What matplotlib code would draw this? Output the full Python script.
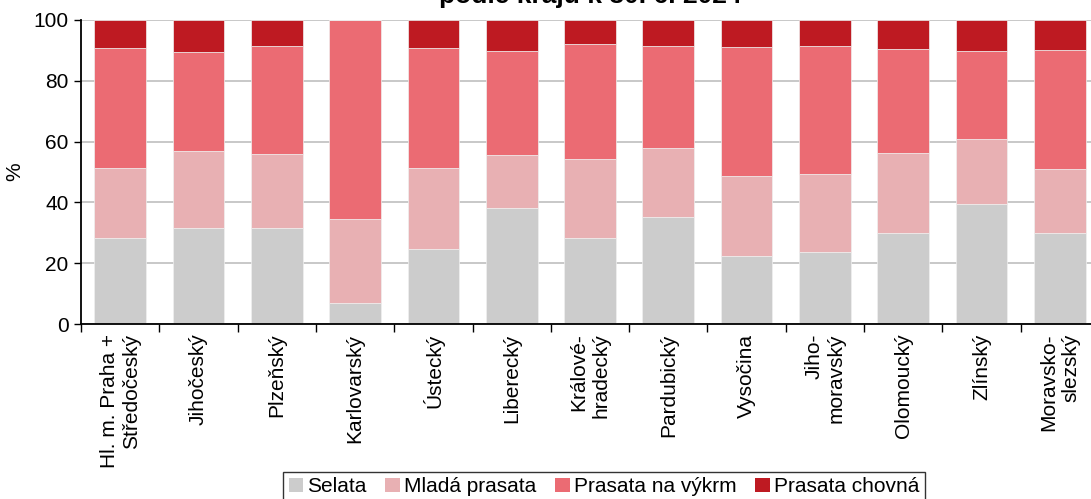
import numpy as np
import matplotlib.pyplot as plt
from matplotlib.patches import Patch

plt.rcParams['font.family'] = ['Liberation Sans', 'DejaVu Sans']

regions = ["Hl. m. Praha +\nStředočeský", "Jihočeský", "Plzeňský", "Karlovarský",
           "Ústecký", "Liberecký", "Královéhradecký", "Pardubický", "Vysočina",
           "Jihomoravský", "Olomoucký", "Zlínský", "Moravskoslezský"]
tick_labels = ["Hl. m. Praha +\nStředočeský", "Jihočeský", "Plzeňský", "Karlovarský",
               "Ústecký", "Liberecký", "Králové-\nhradecký", "Pardubický", "Vysočina",
               "Jiho-\nmoravský", "Olomoucký", "Zlínský", "Moravsko-\nslezský"]

# shares in %
selata = [28.3, 31.6, 31.6, 6.9, 24.8, 38.3, 28.3, 35.3, 22.3, 23.6, 29.9, 39.4, 29.8]
mlada = [23.0, 25.3, 24.3, 27.5, 26.5, 17.2, 26.0, 22.5, 26.4, 25.7, 26.4, 21.5, 21.2]
vykrm = [39.6, 32.6, 35.6, 65.6, 39.6, 34.3, 37.7, 33.6, 42.4, 42.1, 34.0, 28.9, 39.0]
chovna = [9.1, 10.5, 8.5, 0.0, 9.1, 10.2, 8.0, 8.6, 8.9, 8.6, 9.7, 10.2, 10.0]

series = [("Selata", selata, "#cccccc"),
          ("Mladá prasata", mlada, "#e8b0b3"),
          ("Prasata na výkrm", vykrm, "#eb6b73"),
          ("Prasata chovná", chovna, "#be1a22")]


def main():
    fig = plt.figure(figsize=(10.91, 4.99), dpi=100)
    ax = fig.add_axes([81 / 1091, 175 / 499, 1018 / 1091, 304 / 499])

    x = np.arange(len(regions))
    bottom = np.zeros(len(regions))
    for name, vals, col in series:
        ax.bar(x, vals, 0.66, bottom=bottom, color=col, edgecolor="#f0f0f0",
               linewidth=0.5, zorder=2)
        bottom += np.array(vals)

    ax.set_xlim(-0.5, len(regions) - 0.5)
    ax.set_ylim(0, 100)
    ax.set_yticks(range(0, 101, 20))
    ax.yaxis.grid(True, color="#bfbfbf", linewidth=1.2, zorder=0)
    ax.set_axisbelow(True)
    for s in ["top", "right"]:
        ax.spines[s].set_visible(False)
    ax.spines["left"].set_linewidth(1.3)
    ax.spines["bottom"].set_linewidth(1.3)

    ax.set_xticks(x)
    ax.set_xticklabels(tick_labels, rotation=90, ha="center", va="top",
                       multialignment="right", fontsize=15)
    ax.set_xticks(np.arange(-0.5, len(regions), 1), minor=True)
    ax.tick_params(axis="x", which="major", length=0, pad=7)
    ax.tick_params(axis="x", which="minor", length=6, width=1)
    ax.tick_params(axis="y", length=5, width=1, labelsize=15, pad=4)
    ax.set_ylabel("%", fontsize=15)
    ax.yaxis.set_label_coords(-57 / 1018, 0.5)

    fig.text(590 / 1091, 1 - 3 / 499, "podle krajů k 30. 6. 2024", ha="center",
             va="baseline", fontsize=19, fontweight="bold")

    handles = [Patch(facecolor=c, label=n) for n, _, c in series]
    fig.legend(handles=handles, loc="upper center", bbox_to_anchor=(604 / 1091, 27 / 499),
               ncol=4, frameon=True, fancybox=False, edgecolor="black", fontsize=15,
               handlelength=0.7, handleheight=0.7, handletextpad=0.2,
               columnspacing=0.9, borderpad=0.25, borderaxespad=0)

    fig.savefig("out.png", dpi=100)


if __name__ == "__main__":
    main()
